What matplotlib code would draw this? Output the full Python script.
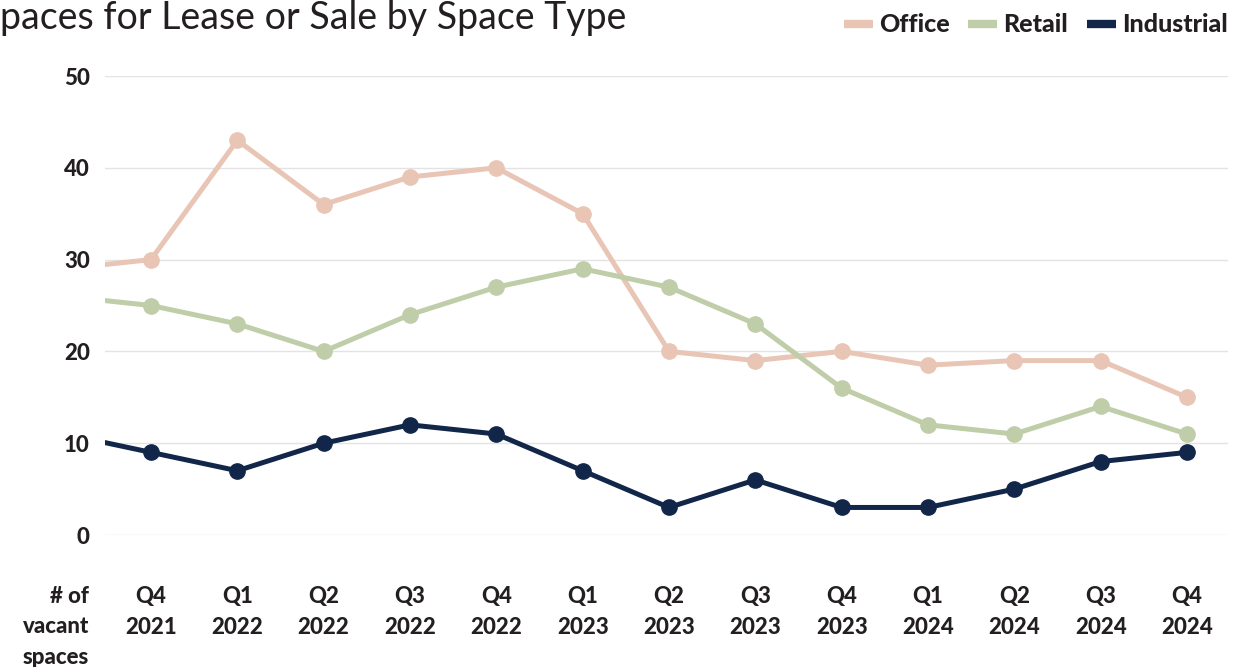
import matplotlib
matplotlib.use("Agg")
import matplotlib.pyplot as plt
from matplotlib.lines import Line2D

# Data (first point is the partially visible quarter before Q4 2021)
quarters = ["Q3\n2021", "Q4\n2021", "Q1\n2022", "Q2\n2022", "Q3\n2022", "Q4\n2022", "Q1\n2023",
            "Q2\n2023", "Q3\n2023", "Q4\n2023", "Q1\n2024", "Q2\n2024", "Q3\n2024", "Q4\n2024"]
office = [29, 30, 43, 36, 39, 40, 35, 20, 19, 20, 18.5, 19, 19, 15]
retail = [26, 25, 23, 20, 24, 27, 29, 27, 23, 16, 12, 11, 14, 11]
industrial = [11, 9, 7, 10, 12, 11, 7, 3, 6, 3, 3, 5, 8, 9]
y_ticks = [0, 10, 20, 30, 40, 50]

c_office = "#E8C5B5"
c_retail = "#BFCDA9"
c_ind = "#12264A"
txt = "#231F20"
font = "Lato"
W = "black"

fig = plt.figure(figsize=(12.39, 6.67), dpi=100)
ax = fig.add_axes([105/1239, 1-535/667, (1228-105)/1239, (535-76)/667])

x = list(range(-1, len(quarters) - 1))
for vals, col in [(office, c_office), (retail, c_retail), (industrial, c_ind)]:
    ax.plot(x, vals, color=col, lw=3.6, marker="o", ms=11, mec=col, mfc=col,
            solid_joinstyle="round", zorder=3)

ax.set_xlim(-0.533, 12.475)
ax.set_ylim(0, 50)
ax.set_yticks(y_ticks)
ax.set_yticklabels([str(v) for v in y_ticks], fontfamily=font, fontweight=W,
                   fontsize=16, color=txt)
ax.set_xticks(x[1:])
ax.set_xticklabels(quarters[1:], fontfamily=font, fontweight=W, fontsize=16,
                   color=txt, linespacing=1.55)
ax.tick_params(axis="y", length=0, pad=11)
ax.tick_params(axis="x", length=0, pad=37)
ax.grid(axis="y", color="#E3E3E3", lw=1)
ax.set_axisbelow(True)
for s in ax.spines.values():
    s.set_visible(False)

fig.text(89/1239, 1-586/667, "# of\nvacant\nspaces", ha="right", va="top",
         fontfamily=font, fontweight=W, fontsize=16, color=txt, linespacing=1.55)

fig.text(0.0, 1-18/667, "paces for Lease or Sale by Space Type", ha="left", va="center",
         fontfamily=font, fontsize=27, color=txt)

handles = [Line2D([0], [0], color=c, lw=6, solid_capstyle="butt")
           for c in (c_office, c_retail, c_ind)]
leg = fig.legend(handles, ["Office", "Retail", "Industrial"], loc="center right",
                 bbox_to_anchor=(1250/1239, 1-25/667), ncol=3, frameon=False,
                 handlelength=1.15, handletextpad=0.25, columnspacing=0.75,
                 prop={"family": font, "weight": W, "size": 18})
for t in leg.get_texts():
    t.set_color(txt)

fig.savefig("out.png", dpi=100)
